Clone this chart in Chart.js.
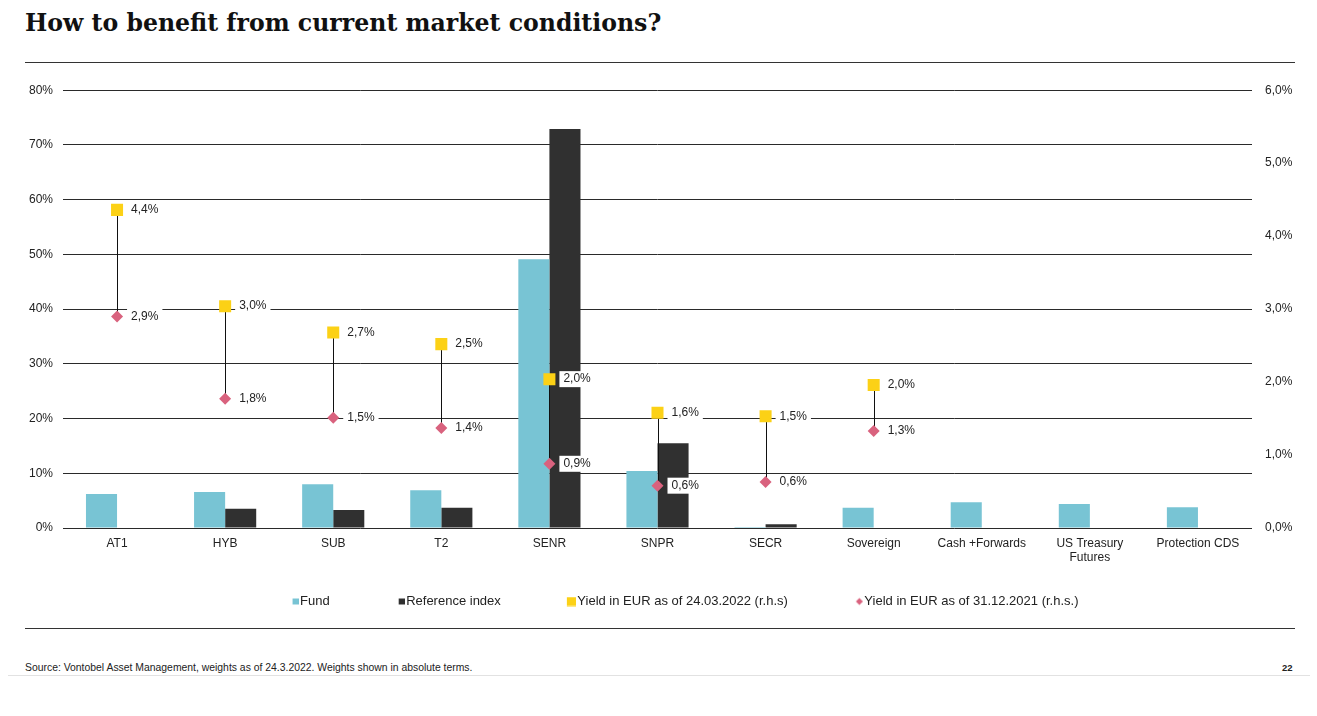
<!DOCTYPE html>
<html>
<head>
<meta charset="utf-8">
<script src="https://cdn.jsdelivr.net/npm/chart.js@4.4.1/dist/chart.umd.min.js"></script>
<style>
  body { margin: 0; background: #fff; width: 1317px; height: 716px; overflow: hidden; position: relative; font-family: "Liberation Sans", Arial, sans-serif; }
  #title { position: absolute; left: 25px; top: 9px; margin: 0; font: bold 23.6px "DejaVu Serif", serif; color: #111; white-space: nowrap; }
  .rule { position: absolute; left: 25px; width: 1270px; height: 1px; background: #333; }
  #wrap { position: absolute; left: 0; top: 70px; width: 1317px; height: 550px; }
  #source { position: absolute; left: 25px; top: 662px; font-size: 10.4px; color: #222; white-space: nowrap; }
  #pageNo { position: absolute; left: 1282px; top: 662px; font-size: 9.5px; font-weight: bold; color: #222; }
  #foot { position: absolute; left: 8px; top: 675px; width: 1302px; height: 1px; background: #e2e2e2; }
</style>
</head>
<body>
<h1 id="title">How to benefit from current market conditions?</h1>
<div class="rule" style="top:62px"></div>
<div id="wrap"><canvas id="chartCanvas"></canvas></div>
<div class="rule" style="top:628px"></div>
<div id="source">Source: Vontobel Asset Management, weights as of 24.3.2022. Weights shown in absolute terms.</div>
<div id="pageNo">22</div>
<div id="foot"></div>

<script>
var categories = ["AT1", "HYB", "SUB", "T2", "SENR", "SNPR", "SECR", "Sovereign", "Cash +Forwards", ["US Treasury", "Futures"], "Protection CDS"];
var fundWeights = [6.2, 6.6, 8.0, 6.9, 49.1, 10.4, 0.2, 3.7, 4.7, 4.4, 3.8];
var referenceWeights = [null, 3.5, 3.3, 3.7, 72.9, 15.5, 0.7, null, null, null, null];
var yieldMar2022 = [4.36, 3.04, 2.68, 2.52, 2.04, 1.58, 1.53, 1.96, null, null, null];
var yieldDec2021 = [2.90, 1.77, 1.51, 1.37, 0.88, 0.58, 0.63, 1.33, null, null, null];
var seriesNames = ["Fund", "Reference index", "Yield in EUR as of 24.03.2022 (r.h.s)", "Yield in EUR as of 31.12.2021 (r.h.s.)"];

var fundColor = "#78c4d4";
var refColor = "#303030";
var yellow = "#fcd116";
var pink = "#d9627e";

// legend icons: wider than the legend box, marker at the right end,
// so the marker sits close to its text and the gaps between items stay wide
var legendBox = 62;
var legendFont = 13;
function makeIcon(color, size, diamond) {
  var c = document.createElement("canvas");
  var w = legendBox + legendFont / 2 * 2 - 3;
  c.width = w;
  c.height = 10;
  var g = c.getContext("2d");
  g.fillStyle = color;
  var x = w - size, y = (10 - size) / 2;
  if (diamond) {
    g.beginPath();
    g.moveTo(x + size / 2, y);
    g.lineTo(x + size, y + size / 2);
    g.lineTo(x + size / 2, y + size);
    g.lineTo(x, y + size / 2);
    g.closePath();
    g.fill();
  } else {
    g.fillRect(x, y, size, size);
  }
  return c;
}
var legendIcons = [makeIcon(fundColor, 6), makeIcon(refColor, 6), makeIcon(yellow, 9), makeIcon(pink, 7, true)];

function pct1(v) {
  return v.toFixed(1).replace(".", ",") + "%";
}

var connectorPlugin = {
  id: "connectors",
  beforeDatasetDraw: function (chart, args) {
    if (args.index !== 3) return;
    var top = chart.getDatasetMeta(2).data;
    var bottom = chart.getDatasetMeta(3).data;
    var ctx = chart.ctx;
    ctx.save();
    ctx.strokeStyle = "#111";
    ctx.lineWidth = 1;
    for (var i = 0; i < top.length; i++) {
      if (yieldMar2022[i] == null || yieldDec2021[i] == null) continue;
      var x = Math.round(top[i].x) + 0.5;
      ctx.beginPath();
      ctx.moveTo(x, top[i].y);
      ctx.lineTo(x, bottom[i].y);
      ctx.stroke();
    }
    ctx.restore();
  }
};

var labelPlugin = {
  id: "pointLabels",
  afterDatasetsDraw: function (chart) {
    var ctx = chart.ctx;
    ctx.save();
    ctx.font = "12px 'Liberation Sans', Arial, sans-serif";
    ctx.textBaseline = "middle";
    [2, 3].forEach(function (di) {
      var values = chart.data.datasets[di].data;
      var pts = chart.getDatasetMeta(di).data;
      for (var i = 0; i < values.length; i++) {
        if (values[i] == null) continue;
        var txt = pct1(values[i]);
        var tx = pts[i].x + 14;
        var w = ctx.measureText(txt).width;
        ctx.fillStyle = "#fff";
        ctx.fillRect(tx - 4, pts[i].y - 8, w + 8, 16);
        ctx.fillStyle = "#222";
        ctx.fillText(txt, tx, pts[i].y);
      }
    });
    ctx.restore();
  }
};

Chart.defaults.font.family = "'Liberation Sans', Arial, sans-serif";
Chart.defaults.font.size = 12;
Chart.defaults.color = "#222";

var ctx = document.getElementById("chartCanvas");
var yieldChart = new Chart(ctx, {
  type: "bar",
  data: {
    labels: categories,
    datasets: [
      {
        label: seriesNames[0],
        data: fundWeights,
        backgroundColor: fundColor,
        yAxisID: "y",
        order: 1
      },
      {
        label: seriesNames[1],
        data: referenceWeights,
        backgroundColor: refColor,
        yAxisID: "y",
        order: 1
      },
      {
        type: "line",
        label: seriesNames[2],
        data: yieldMar2022,
        yAxisID: "y1",
        showLine: false,
        pointStyle: "rect",
        pointRadius: 8.5,
        pointBackgroundColor: yellow,
        pointBorderWidth: 0,
        order: 0
      },
      {
        type: "line",
        label: seriesNames[3],
        data: yieldDec2021,
        yAxisID: "y1",
        showLine: false,
        pointStyle: "rectRot",
        pointRadius: 6,
        pointBackgroundColor: pink,
        pointBorderWidth: 0,
        order: 0
      }
    ]
  },
  options: {
    responsive: true,
    maintainAspectRatio: false,
    animation: false,
    categoryPercentage: 0.575,
    barPercentage: 1,
    layout: { padding: { top: 12, left: 0, right: 7, bottom: 2 } },
    plugins: {
      tooltip: { enabled: false },
      legend: {
        position: "bottom",
        labels: {
          usePointStyle: true,
          pointStyleWidth: legendBox,
          padding: 8,
          color: "#222",
          font: { size: legendFont },
          generateLabels: function (chart) {
            var items = Chart.defaults.plugins.legend.labels.generateLabels(chart);
            items.sort(function (a, b) { return a.datasetIndex - b.datasetIndex; });
            items.forEach(function (it) { it.pointStyle = legendIcons[it.datasetIndex]; });
            return items;
          }
        }
      }
    },
    scales: {
      x: {
        grid: { display: false },
        border: { display: false },
        ticks: { padding: 0, maxRotation: 0, autoSkip: false, color: "#222" },
        afterFit: function (scale) { scale.height = 59; }
      },
      y: {
        position: "left",
        min: 0,
        max: 80,
        grid: { color: "#2a2a2a", lineWidth: 1, drawTicks: false },
        border: { display: false },
        ticks: { stepSize: 10, padding: 10, color: "#222", callback: function (v) { return v + "%"; } },
        afterFit: function (scale) { scale.width = 63; }
      },
      y1: {
        position: "right",
        min: 0,
        max: 6,
        grid: { display: false, drawTicks: false },
        border: { display: false },
        ticks: { stepSize: 1, padding: 13, color: "#222", callback: function (v) { return pct1(v); } },
        afterFit: function (scale) { scale.width = 58; }
      }
    }
  },
  plugins: [connectorPlugin, labelPlugin]
});
</script>
</body>
</html>
